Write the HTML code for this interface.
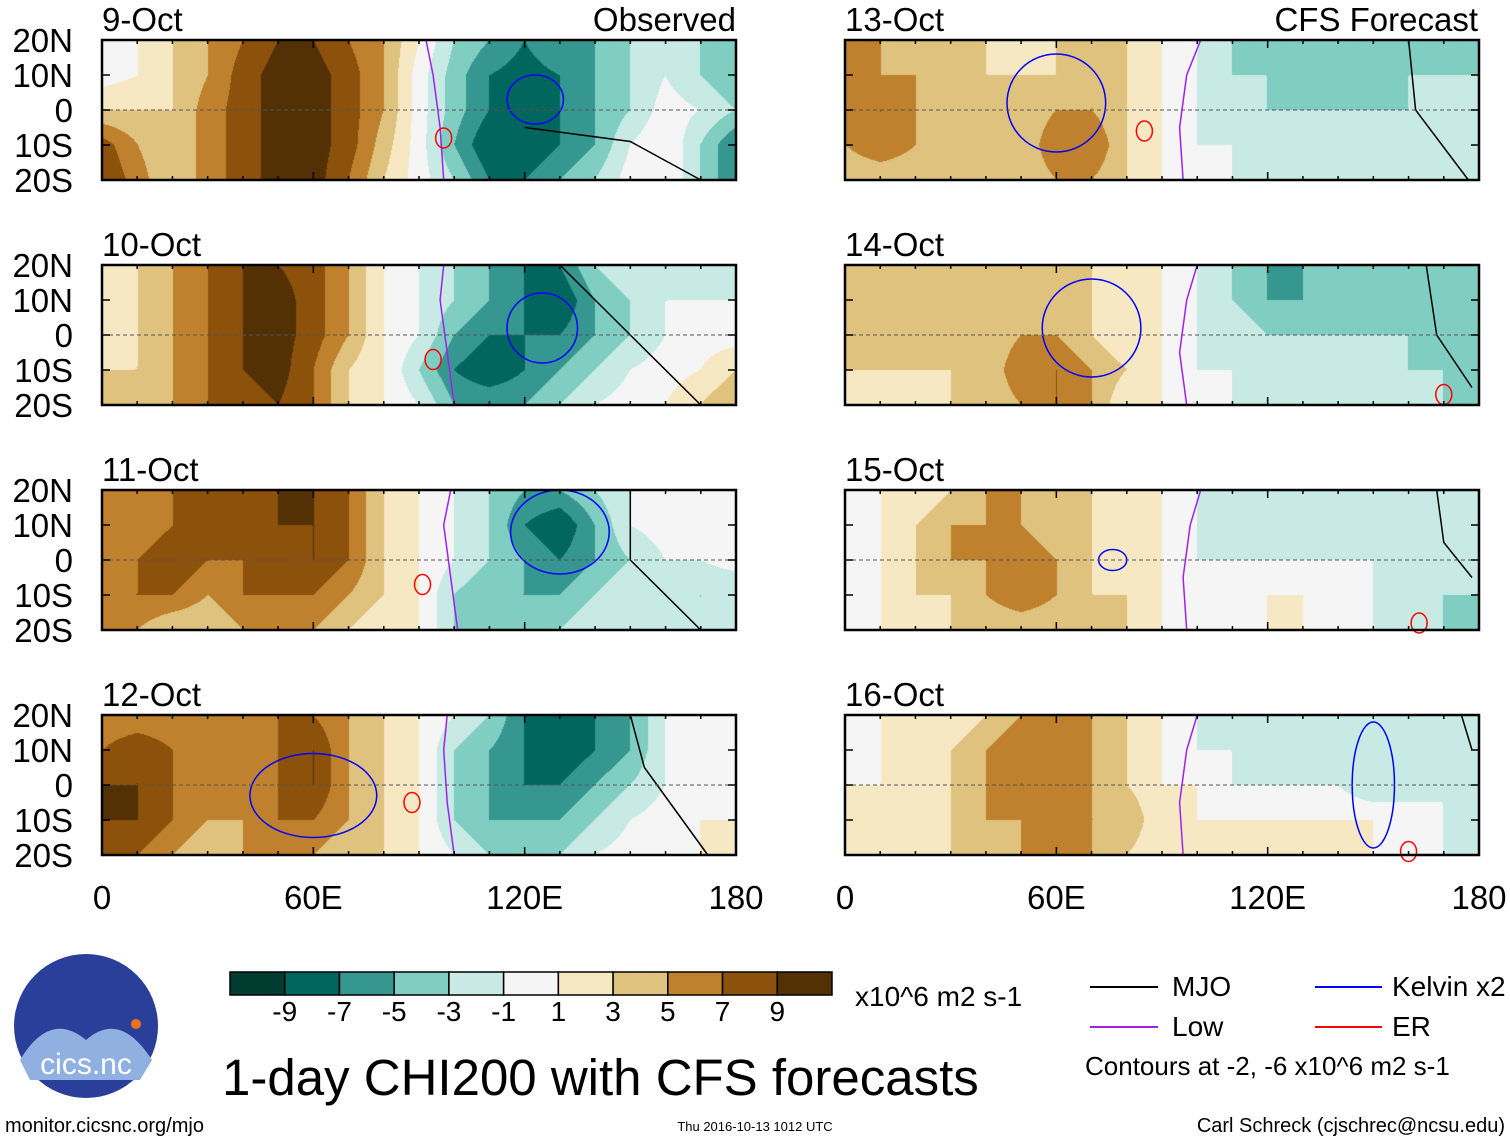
<!DOCTYPE html>
<html><head><meta charset="utf-8">
<style>
body{margin:0;background:#fff;}
#root{position:relative;width:1510px;height:1142px;overflow:hidden;background:#fff;font-family:"Liberation Sans",sans-serif;color:#000;}
.t{position:absolute;white-space:nowrap;line-height:1;}
canvas{position:absolute;}
svg{position:absolute;left:0;top:0;}
</style></head>
<body>
<div id="root">
<svg id="ov" width="1510" height="1142"></svg>
</div>
<script>
const lons=[0,10,20,30,40,50,60,70,80,90,100,110,120,130,140,150,160,170,180];
const lats=[20,10,0,-10,-20];
const dates=["9-Oct","10-Oct","11-Oct","12-Oct","13-Oct","14-Oct","15-Oct","16-Oct"];
const p9=[[0,1,3,5,7,9,9,7,5,1,-3,-5,-7,-5,-5,-3,-1,-3,-5],[0,1,3,5,8,10,10,8,5,0,-4,-7,-8,-7,-5,-3,-1,-3,-5],[3,3,3,6,8,10,10,8,5,0,-4,-7,-8,-7,-5,-3,0,-1,-3],[8,5,3,6,8,10,10,8,4,0,-5,-9,-9,-7,-5,-1,1,-3,-7],[9,6,3,6,8,10,10,7,3,0,-3,-7,-7,-5,-3,0,1,-3,-7]];
const p10=[[2,3,5,7,9,9,8,5,1,-1,-3,-5,-7,-7,-3,-1,-1,-1,-1],[2,3,5,7,9,10,8,5,1,-1,-3,-5,-7,-9,-5,-3,-1,-1,-1],[2,3,5,7,9,10,8,5,1,-1,-5,-7,-7,-7,-5,-3,-1,0,0],[3,3,5,7,9,10,7,3,1,-3,-7,-9,-7,-5,-3,-1,0,1,3],[3,3,5,7,8,9,7,3,1,-1,-5,-5,-5,-3,-1,0,1,3,5]];
const p11=[[5,5,7,7,7,9,9,7,3,1,-1,-3,-5,-5,-3,-1,1,-1,0],[5,5,7,7,7,9,9,7,3,1,-1,-3,-7,-9,-5,-1,0,-1,0],[5,7,9,7,7,7,9,7,3,1,-1,-3,-5,-7,-5,-3,-1,-1,0],[7,7,7,5,7,7,7,5,3,1,-3,-5,-5,-5,-3,-1,-1,-3,-3],[5,5,3,3,5,5,5,3,1,1,-3,-3,-3,-3,-1,-1,-1,-3,-1]];
const p12=[[5,5,5,5,7,7,7,5,3,1,-1,-3,-7,-9,-7,-5,-1,1,1],[7,9,7,5,5,7,9,5,3,1,-3,-5,-7,-9,-7,-5,-1,0,1],[9,9,7,5,7,7,9,5,3,1,-3,-5,-7,-7,-5,-3,-1,0,1],[9,9,7,5,5,7,7,5,3,1,-3,-5,-5,-5,-3,-1,0,1,1],[7,7,5,3,5,5,5,3,3,1,-1,-3,-3,-3,-1,0,0,1,1]];
const p13=[[5,5,3,3,3,1,3,3,3,1,-1,-3,-3,-5,-5,-3,-3,-3,-5],[5,5,5,3,3,3,3,5,3,1,-1,-3,-3,-5,-3,-3,-3,-3,-3],[7,7,5,3,3,3,5,5,3,1,-1,-1,-3,-3,-3,-3,-3,-1,-1],[5,7,5,3,3,3,7,7,3,1,-1,-1,-1,-1,-1,-1,-1,-1,-1],[3,3,3,3,3,3,5,5,3,1,0,-1,-1,-1,-1,-1,-1,-1,-1]];
const p14=[[3,3,3,3,3,3,3,3,3,1,-1,-3,-5,-5,-3,-3,-3,-3,-3],[3,3,3,3,3,3,3,3,1,1,-1,-3,-5,-5,-5,-3,-3,-3,-3],[3,3,5,3,3,5,5,3,1,1,-1,-1,-3,-3,-3,-3,-3,-3,-3],[3,3,3,3,3,7,7,5,3,1,-1,-1,-1,-1,-1,-1,-3,-3,-3],[1,1,1,3,3,5,7,5,1,1,0,-1,-1,-1,-1,-1,-1,-3,-3]];
const p15=[[0,1,1,3,5,5,3,3,3,1,-1,-1,-1,-3,-3,-1,-1,-1,-3],[0,1,3,5,5,5,3,3,1,1,-1,-1,-1,-1,-1,-1,-1,-1,-3],[-1,1,3,5,5,7,5,3,1,1,-1,-1,-1,-1,-1,-1,-1,-1,-3],[-1,1,3,3,5,7,5,3,3,1,0,-1,1,1,0,-1,-1,-3,-3],[-1,1,1,3,3,3,3,3,3,1,0,1,1,1,0,-1,-1,-3,-3]];
const p16=[[-1,1,1,1,3,5,5,5,3,1,-1,-1,-1,-1,-1,-1,-1,-1,-3],[-1,1,1,3,5,7,5,5,3,1,-1,-1,-1,-1,-1,-1,-3,-1,-3],[1,1,3,3,5,7,7,5,3,1,1,-1,-1,-1,-1,-3,-3,-1,-1],[1,1,1,3,5,5,5,5,5,1,1,1,1,1,1,1,1,-1,-1],[1,1,1,3,3,5,5,5,3,1,1,1,1,1,1,1,-1,-1,-1]];
const fields=[p9,p10,p11,p12,p13,p14,p15,p16];
const purple=[[[97,-20],[96,-5],[94,10],[92,20]],[[100,-20],[98,-5],[96,10],[97,20]],[[101,-20],[99,-5],[97,10],[99,20]],[[100,-20],[98,-5],[97,10],[98,20]],[[96,-20],[95,-5],[97,10],[101,20]],[[97,-20],[95,-5],[97,10],[100,20]],[[97,-20],[96,-5],[98,10],[101,20]],[[96,-20],[95,-5],[97,10],[100,20]]];
const blackL=[[[120,-5],[150,-9],[170,-20]],[[130,20],[150,0],[170,-20]],[[150,20],[150,0],[170,-20]],[[150,20],[154,5],[172,-20]],[[160,20],[162,0],[177,-20]],[[165,20],[168,0],[178,-15]],[[168,20],[170,5],[178,-5]],[[175,20],[178,10]]];
const kelvinLon=[123,125,130,60,60,70,76,150];
const kelvinLat=[3,2,8,-3,2,2,0,0];
const kelvinW=[8,10,14,18,14,14,4,6];
const kelvinH=[7,10,12,12,14,14,3,18];
const erLon=[97,94,91,88,85,170,163,160];
const erLat=[-8,-7,-7,-5,-6,-17,-18,-19];
const bandVals=[-9,-7,-5,-3,-1,1,3,5,7,9];
const bandCols=["#003c30","#01665e","#35978f","#80cdc1","#c7eae5","#f5f5f5","#f6e8c3","#dfc27d","#bf812d","#8c510a","#543005"];

const root=document.getElementById('root');
const ov=document.getElementById('ov');
const NS="http://www.w3.org/2000/svg";
const PW=634,PH=140;
const panelX=[102,102,102,102,845,845,845,845];
const panelY=[40,265,490,715,40,265,490,715];
function colorOf(v){
  v=Math.round(v*1000)/1000;
  if(v>=9)return bandCols[10];if(v>=7)return bandCols[9];if(v>=5)return bandCols[8];if(v>=3)return bandCols[7];if(v>=1)return bandCols[6];
  if(v<=-9)return bandCols[0];if(v<=-7)return bandCols[1];if(v<=-5)return bandCols[2];if(v<=-3)return bandCols[3];if(v<=-1)return bandCols[4];return bandCols[5];
}
function hex(c){return [parseInt(c.substr(1,2),16),parseInt(c.substr(3,2),16),parseInt(c.substr(5,2),16)];}
function txt(s,x,y,size,name,anchor){
  const d=document.createElement('div');d.className='t';d.textContent=s;d.style.fontSize=size+'px';
  d.style.top=y+'px';
  if(anchor==='r'){d.style.right=(1510-x)+'px';}else if(anchor==='c'){d.style.left=x+'px';d.style.transform='translateX(-50%)';}else d.style.left=x+'px';
  
  
  root.appendChild(d);return d;
}
function el(tag,attrs,name){const e=document.createElementNS(NS,tag);for(const k in attrs)e.setAttribute(k,attrs[k]);
  
  
  ov.appendChild(e);return e;}

fields.forEach((F,p)=>{
  const x0=panelX[p],y0=panelY[p];
  const xs=lon=>x0+lon/180*PW, ys=lat=>y0+(20-lat)/40*PH;
  const cv=document.createElement('canvas');cv.width=PW;cv.height=PH;cv.style.left=x0+'px';cv.style.top=y0+'px';
  
  
  root.insertBefore(cv,ov);
  const ctx=cv.getContext('2d');const img=ctx.createImageData(PW,PH);
  for(let py=0;py<PH;py++){const fy=py/(PH-1)*(lats.length-1);const j=Math.min(Math.floor(fy),lats.length-2),ty=fy-j;
    for(let px=0;px<PW;px++){const fx=px/(PW-1)*(lons.length-1);const i=Math.min(Math.floor(fx),lons.length-2),tx=fx-i;
      const v=(F[j][i]*(1-tx)+F[j][i+1]*tx)*(1-ty)+(F[j+1][i]*(1-tx)+F[j+1][i+1]*tx)*ty;
      const c=hex(colorOf(v));const k=(py*PW+px)*4;img.data[k]=c[0];img.data[k+1]=c[1];img.data[k+2]=c[2];img.data[k+3]=255;}}
  ctx.putImageData(img,0,0);
  const pth=pts=>pts.map((q,i)=>(i?'L':'M')+xs(q[0]).toFixed(1)+' '+ys(q[1]).toFixed(1)).join(' ');
  el('path',{d:pth(purple[p]),fill:'none',stroke:'#a020f0','stroke-width':1.5},'low-contour-'+dates[p]);
  el('path',{d:pth(blackL[p]),fill:'none',stroke:'#000','stroke-width':1.5},'mjo-contour-'+dates[p]);
  el('ellipse',{cx:xs(kelvinLon[p]),cy:ys(kelvinLat[p]),rx:kelvinW[p]/180*PW,ry:kelvinH[p]/40*PH,fill:'none',stroke:'#0000ff','stroke-width':1.5},'kelvin-contour-'+dates[p]);
  el('ellipse',{cx:xs(erLon[p]),cy:ys(erLat[p]),rx:8,ry:10,fill:'none',stroke:'#ff0000','stroke-width':1.5},'er-contour-'+dates[p]);
  el('line',{x1:x0,x2:x0+PW,y1:ys(0),y2:ys(0),stroke:'#555','stroke-width':1,'stroke-dasharray':'4 3'},'equator-line');
  el('rect',{x:x0,y:y0,width:PW,height:PH,fill:'none',stroke:'#000','stroke-width':2.5},'panel-frame-'+dates[p]);
  for(let lo=0;lo<=180;lo+=10){const tl=lo%60===0?8:4;
    el('line',{x1:xs(lo),x2:xs(lo),y1:y0,y2:y0+tl,stroke:'#000','stroke-width':1.5},'x-tick');
    el('line',{x1:xs(lo),x2:xs(lo),y1:y0+PH,y2:y0+PH-tl,stroke:'#000','stroke-width':1.5},'x-tick');}
  lats.forEach(la=>{el('line',{x1:x0,x2:x0+8,y1:ys(la),y2:ys(la),stroke:'#000','stroke-width':1.5},'y-tick');
    el('line',{x1:x0+PW,x2:x0+PW-8,y1:ys(la),y2:ys(la),stroke:'#000','stroke-width':1.5},'y-tick');});
  txt(dates[p],x0,y0-37,33,'panel-date-'+dates[p]);
  if(p<4){['20N','10N','0','10S','20S'].forEach((s,i)=>txt(s,73,ys(lats[i])-16,33,'y-tick-label','r'));}
});
txt('Observed',736,3,33,'observed-label','r');
txt('CFS Forecast',1478,3,33,'forecast-label','r');
['0','60E','120E','180'].forEach((s,i)=>{txt(s,102+i*PW/3,881,33,'x-tick-label','c');txt(s,845+i*PW/3,881,33,'x-tick-label','c');});

const cbx=230,cbw=602/11;
bandCols.forEach((c,i)=>el('rect',{x:cbx+i*cbw,y:972,width:cbw,height:23,fill:c,stroke:'#000','stroke-width':1.5},'colorbar-box'));
bandVals.forEach((v,i)=>txt(String(v),cbx+(i+1)*cbw,998,28,'colorbar-label','c'));
txt('x10^6 m2 s-1',855,983,28,'colorbar-units');
txt('1-day CHI200 with CFS forecasts',222,1052,51,'figure-title');
el('line',{x1:1090,x2:1158,y1:987,y2:987,stroke:'#000','stroke-width':2},'legend-mjo-line');
txt('MJO',1172,973,28,'legend-mjo');
el('line',{x1:1315,x2:1382,y1:987,y2:987,stroke:'#0000ff','stroke-width':2},'legend-kelvin-line');
txt('Kelvin x2',1392,973,28,'legend-kelvin');
el('line',{x1:1090,x2:1158,y1:1027,y2:1027,stroke:'#a020f0','stroke-width':2},'legend-low-line');
txt('Low',1172,1013,28,'legend-low');
el('line',{x1:1315,x2:1382,y1:1027,y2:1027,stroke:'#ff0000','stroke-width':2},'legend-er-line');
txt('ER',1392,1013,28,'legend-er');
txt('Contours at -2, -6 x10^6 m2 s-1',1085,1053,26,'contour-note');
el('circle',{cx:86,cy:1026,r:72,fill:'#2a3f9a'},'cics-logo');
el('path',{d:'M20 1060 Q50 1010 86 1040 Q120 1010 152 1060 L140 1080 L30 1080 Z',fill:'#8fb0e0'},'logo-mountains');
el('circle',{cx:136,cy:1024,r:5,fill:'#f07020'},'logo-sun');
const lg=el('text',{x:86,y:1074,'text-anchor':'middle','font-size':30,fill:'#fff','font-family':'Liberation Sans, sans-serif'},'logo-text');lg.textContent='cics.nc';
txt('monitor.cicsnc.org/mjo',5,1116,20,'source-url');
txt('Thu 2016-10-13 1012 UTC',755,1120,13,'timestamp','c');
txt('Carl Schreck (cjschrec@ncsu.edu)',1505,1116,20,'author-credit','r');
</script>
</body></html>
